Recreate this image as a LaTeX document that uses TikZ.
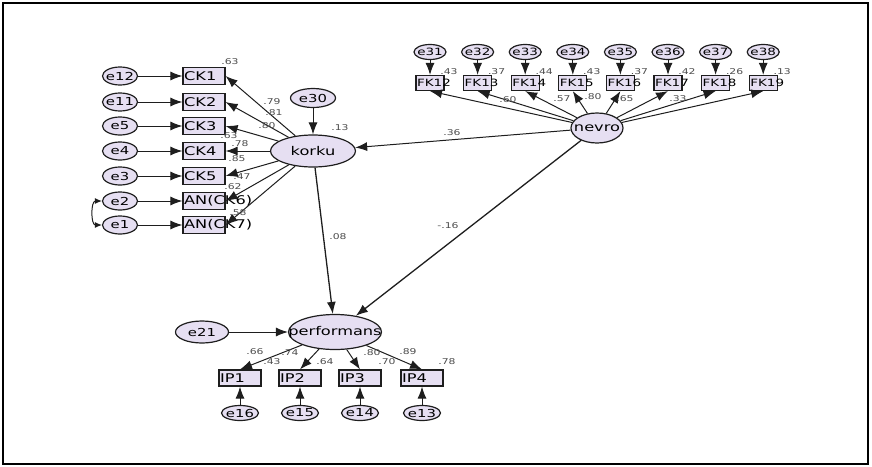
\documentclass[tikz,border=0pt]{standalone}
\usepackage{fontspec}
\setmainfont[FakeStretch=1.35]{DejaVu Sans}
\usepackage{tikz}
\usetikzlibrary{arrows.meta,shapes.geometric}
\definecolor{lav}{HTML}{E6DFF2}
\definecolor{ln}{HTML}{1E1E1E}
\newcommand{\nw}[1]{\makebox[0pt]{#1}}
\tikzset{
  errnode/.style={ellipse,draw=ln,fill=lav,line width=1.2pt,inner sep=0pt,minimum width=35pt,minimum height=18pt,font=\fontsize{11}{11}\selectfont},
  latent/.style={ellipse,draw=ln,fill=lav,line width=1.2pt,inner sep=0pt,minimum width=85pt,minimum height=32pt,font=\fontsize{12}{12}\selectfont},
  obsbox/.style={rectangle,draw=ln,fill=lav,line width=1.2pt,inner sep=0pt,minimum width=42pt,minimum height=17pt},
  boxtxt/.style={anchor=west,inner sep=1.5pt,font=\fontsize{12}{12}\selectfont},
  path/.style={draw=ln,line width=1pt,-{Latex[length=12pt,width=9pt]}},
  coef/.style={font=\fontsize{8}{8}\selectfont,text=black!70,inner sep=0pt}
}
\begin{document}
\begin{tikzpicture}[x=1pt,y=-1pt]
\useasboundingbox (0,0) rectangle (872,466);
\draw[line width=2.2pt] (3,3) rectangle (868,464);

\node[latent] (korku) at (313,151) {\nw{korku}};
\node[latent,minimum width=52pt,minimum height=30pt] (nevro) at (597,128) {\nw{nevro}};
\node[latent,minimum width=93pt,minimum height=35pt] (perf) at (335,332) {\nw{performans}};
\node[errnode,minimum width=45pt,minimum height=19pt] (e30) at (313,98) {\nw{e30}};
\node[errnode,minimum width=53pt,minimum height=22pt] (e21) at (202,332) {\nw{e21}};

\foreach \y/\e/\v [count=\i] in {76/e12/CK1,102/e11/CK2,126/e5/CK3,151/e4/CK4,176/e3/CK5,201/e2/AN(CK6),225/e1/AN(CK7)}{
  \node[errnode] (le\i) at (120,\y) {\nw{\e}};
  \node[obsbox] (ck\i) at (204,\y) {};
  \node[boxtxt] (ckt\i) at (ck\i.west) {\v};
  \draw[path] (le\i) -- (ck\i);
  \draw[path] (korku) -- (ck\i.east);
}
\draw[{Latex[length=7pt,width=6pt]}-{Latex[length=7pt,width=6pt]},draw=ln,line width=1pt] (le6.west) to[out=180,in=180,looseness=1.2] (le7.west);

\foreach \r [count=\i] in {.43,.37,.44,.43,.37,.42,.26,.13}{
  \pgfmathsetmacro\xx{430+47.6*(\i-1)}
  \pgfmathtruncatemacro\en{30+\i}
  \pgfmathtruncatemacro\fk{11+\i}
  \node[errnode,minimum width=32pt,minimum height=15pt,font=\fontsize{10}{10}\selectfont] (fe\i) at (\xx,52) {\nw{e\en}};
  \node[obsbox,minimum width=28pt,minimum height=15pt] (fk\i) at (\xx,83) {};
  \node[boxtxt,font=\fontsize{10}{10}\selectfont] (fkt\i) at (fk\i.west) {FK\fk};
  \draw[path] (fe\i) -- (fk\i);
  \draw[path] (nevro) -- (fk\i.south);
  \node[coef] (fr\i) at (\xx+19,72) {\r};
}

\foreach \x/\e [count=\i] in {240/e16,300/e15,360/e14,422/e13}{
  \node[obsbox,minimum height=16pt] (ip\i) at (\x,378) {};
  \node[boxtxt] (ipt\i) at (ip\i.west) {IP\i};
  \node[errnode,minimum width=37pt,minimum height=15pt] (ie\i) at (\x,413) {\nw{\e}};
  \draw[path] (ie\i) -- (ip\i);
  \draw[path] (perf) -- (ip\i.north);
}

\draw[path] (e30) -- (korku);
\draw[path] (nevro) -- (korku);
\draw[path,line width=1.3pt] (korku) -- (perf);
\draw[path,line width=1.3pt] (nevro) -- (perf);
\draw[path] (e21) -- (perf);

\foreach \x/\y/\t [count=\i] in {230/62/.63,272/102/.79,274/113/.81,267/126/.80,229/136/.63,240/144/.78,237/159/.85,242/177/.47,233/187/.62,238/213/.58,
  508/100/.60,562/99/.57,593/97/.80,625/99/.65,678/99/.33,452/133/.36,340/128/.13,338/237/.08,448/226/-.16,
  255/352/.66,290/353/.74,272/362/.43,325/362/.64,372/353/.80,387/362/.70,408/352/.89,447/362/.78}
  \node[coef] (c\i) at (\x,\y) {\t};
\end{tikzpicture}
\end{document}
